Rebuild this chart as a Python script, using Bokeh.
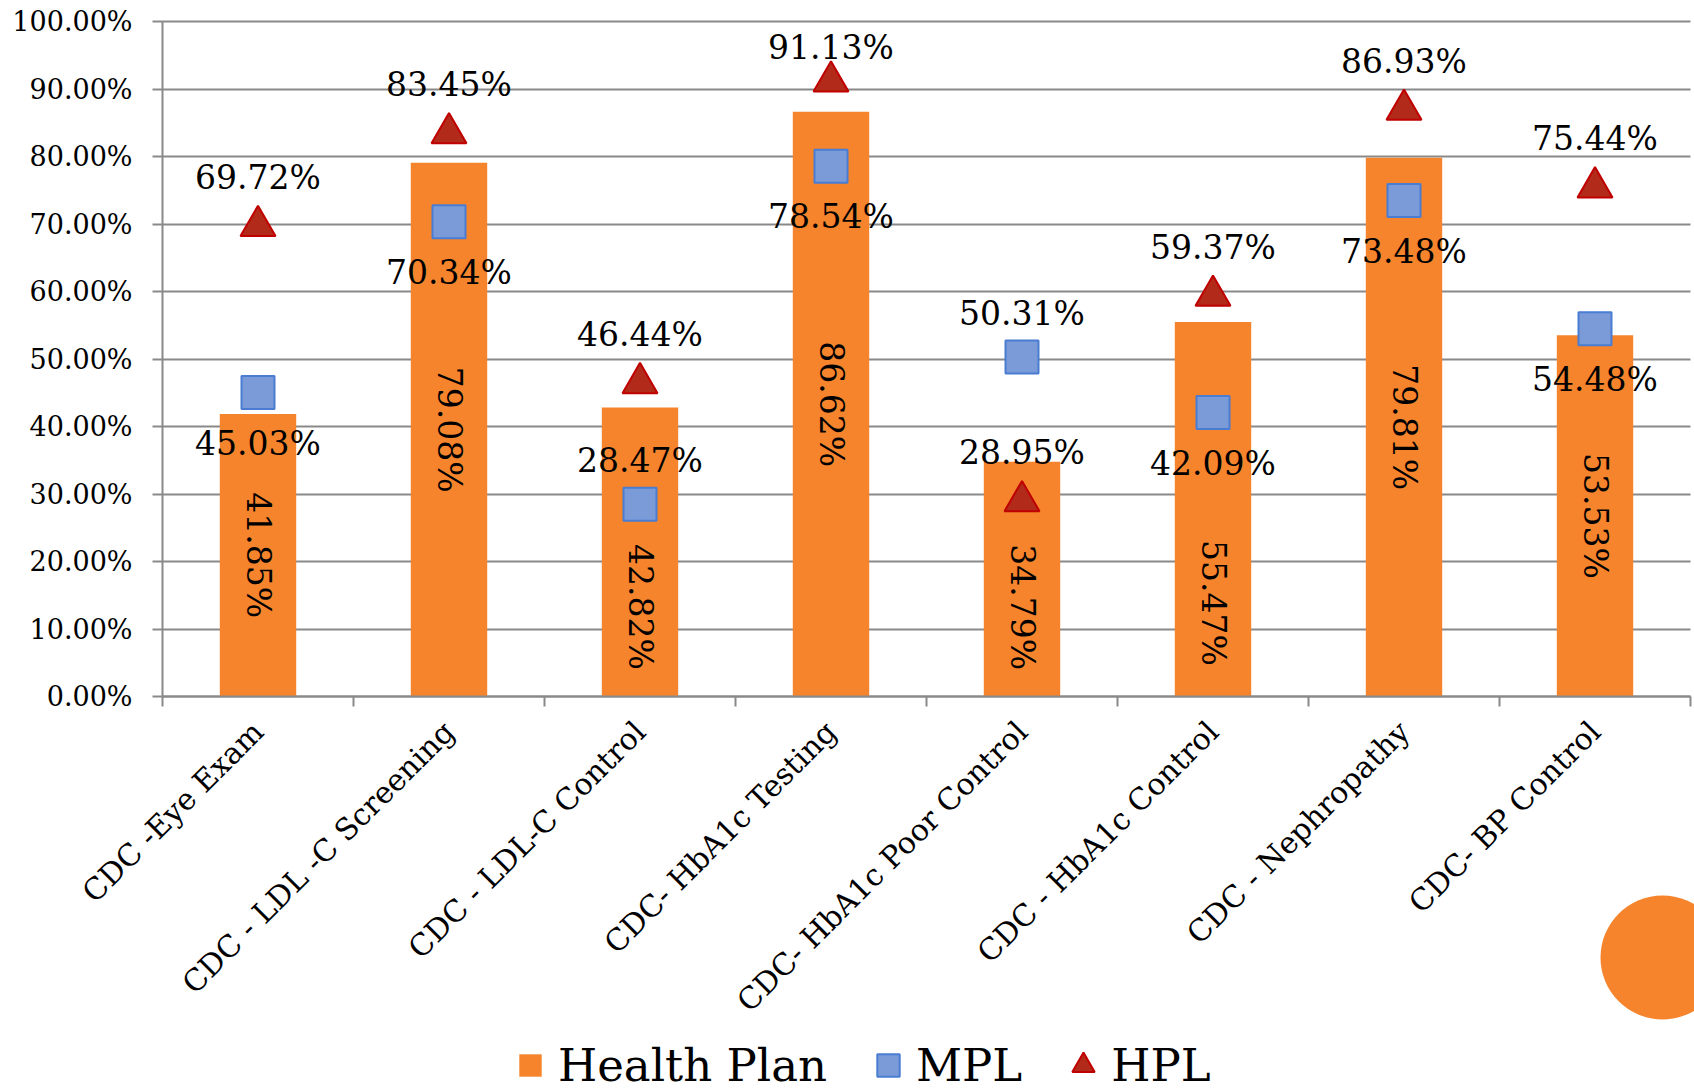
import math
from bokeh.plotting import figure
from bokeh.models import (Range1d, FixedTicker, PrintfTickFormatter, ColumnDataSource,
                          Legend, LegendItem, Grid, BoxAnnotation)
from bokeh.core.properties import value
from bokeh.embed import file_html
from bokeh.resources import INLINE

categories = ["CDC -Eye Exam", "CDC - LDL -C Screening", "CDC - LDL-C Control",
              "CDC- HbA1c Testing", "CDC- HbA1c Poor Control", "CDC - HbA1c Control",
              "CDC - Nephropathy", "CDC- BP Control"]
health_plan = [41.85, 79.08, 42.82, 86.62, 34.79, 55.47, 79.81, 53.53]
mpl = [45.03, 70.34, 28.47, 78.54, 50.31, 42.09, 73.48, 54.48]
hpl = [69.72, 83.45, 46.44, 91.13, 28.95, 59.37, 86.93, 75.44]
# where the in-bar label sits, as a fraction of the bar height (Excel nudged some down)
hp_label_frac = [0.5, 0.5, 0.31, 0.5, 0.38, 0.25, 0.5, 0.5]
mpl_label_side = ["below", "below", "above", "below", "above", "below", "below", "below"]
y_ticks = [0, 10, 20, 30, 40, 50, 60, 70, 80, 90, 100]
legend_labels = ["Health Plan", "MPL", "HPL"]

FONT = "DejaVu Serif"
ORANGE = "#F5842D"
SQ_FILL = "#7A9AD8"
SQ_LINE = "#4A7DD2"
TRI_FILL = "#B12A1A"
TRI_LINE = "#C00000"
GRID = "#898989"

W, H = 1694, 1091
AXIS_X_PX, RIGHT_PX = 162, 1690      # pixel columns of the y axis and of the last category edge
TOP_PX, ZERO_PX = 21, 696            # pixel rows of the 100% and 0% lines

n = len(categories)
xs = [i + 0.5 for i in range(n)]
PX_PER_CAT = (RIGHT_PX - AXIS_X_PX) / n
PX_PER_PCT = (ZERO_PX - TOP_PX) / 100.0
x_start = -AXIS_X_PX / PX_PER_CAT
x_end = (W - AXIS_X_PX) / PX_PER_CAT
y_top = 100 + TOP_PX / PX_PER_PCT
y_bottom = -(H - ZERO_PX) / PX_PER_PCT

# the frame fills the whole canvas, the axes are pinned at x=0 / y=0
p = figure(width=W, height=H, output_backend="svg", toolbar_location=None,
           x_range=Range1d(x_start, x_end), y_range=Range1d(y_bottom, y_top),
           min_border_left=0, min_border_right=0, min_border_top=0, min_border_bottom=0)
p.outline_line_color = None
p.background_fill_color = "white"
p.border_fill_color = "white"

# y axis
p.yaxis.fixed_location = 0
p.yaxis.bounds = (0, 100)
p.yaxis.ticker = FixedTicker(ticks=y_ticks)
p.yaxis.formatter = PrintfTickFormatter(format="%.2f%%")
p.yaxis.major_label_text_font = FONT
p.yaxis.major_label_text_font_size = "27px"
p.yaxis.major_label_text_color = "black"
p.yaxis.major_label_standoff = 20
p.yaxis.major_tick_out = 10
p.yaxis.major_tick_in = 0
p.yaxis.major_tick_line_color = GRID
p.yaxis.major_tick_line_width = 2
p.yaxis.minor_tick_line_color = None
p.yaxis.axis_line_color = GRID
p.yaxis.axis_line_width = 2

# x axis, drawn at the 0% line
p.xaxis.fixed_location = 0
p.xaxis.bounds = (0, n)
p.xaxis.ticker = FixedTicker(ticks=xs, minor_ticks=list(range(n + 1)))
p.xaxis.major_label_overrides = {x: c for x, c in zip(xs, categories)}
p.xaxis.major_label_orientation = math.pi / 4
p.xaxis.major_label_text_font = FONT
p.xaxis.major_label_text_font_size = "30px"
p.xaxis.major_label_text_color = "black"
p.xaxis.major_label_standoff = 20
p.xaxis.major_tick_line_color = None
p.xaxis.minor_tick_out = 10
p.xaxis.minor_tick_in = 0
p.xaxis.minor_tick_line_color = GRID
p.xaxis.minor_tick_line_width = 2
p.xaxis.axis_line_color = GRID
p.xaxis.axis_line_width = 2

p.xgrid.grid_line_color = None
p.ygrid.grid_line_color = GRID
p.ygrid.grid_line_width = 2
p.ygrid.bounds = (0, 100)
if "cross_bounds" in Grid.properties():
    p.ygrid.cross_bounds = (0, n)
else:
    # hide the part of the grid lines left of the axis
    p.add_layout(BoxAnnotation(right=0, fill_color="white", fill_alpha=1,
                               line_color=None, level="underlay"))

src = ColumnDataSource(dict(
    x=xs, hp=health_plan, mpl=mpl, hpl=hpl,
    hp_lab_y=[v * f for v, f in zip(health_plan, hp_label_frac)],
    hp_txt=[f"{v:.2f}%" for v in health_plan],
    mpl_y=[v - 7.5 if s == "below" else v + 6.5 for v, s in zip(mpl, mpl_label_side)],
    mpl_txt=[f"{v:.2f}%" for v in mpl],
    hpl_y=[min(v + 7.2, 96.2) for v in hpl],
    hpl_txt=[f"{v:.2f}%" for v in hpl],
))

p.vbar(x="x", top="hp", width=0.4, bottom=0, source=src, fill_color=ORANGE, line_color=None)
p.scatter(x="x", y="mpl", source=src, marker="square", size=33,
          fill_color=SQ_FILL, line_color=SQ_LINE, line_width=2)
p.scatter(x="x", y="hpl", source=src, marker="triangle", size=35,
          fill_color=TRI_FILL, line_color=TRI_LINE, line_width=2)

common = dict(text_font=value(FONT), text_font_size="33px", text_color="black",
              text_align="center", text_baseline="middle")
p.text(x="x", y="hp_lab_y", text="hp_txt", angle=-math.pi / 2, source=src, **common)
p.text(x="x", y="mpl_y", text="mpl_txt", source=src, **common)
p.text(x="x", y="hpl_y", text="hpl_txt", source=src, **common)

# legend (proxy markers so that the legend swatches have a proper size)
nan = float("nan")
lg_hp = p.scatter(x=[nan], y=[nan], marker="square", size=1, fill_color=ORANGE, line_color=None)
lg_mpl = p.scatter(x=[nan], y=[nan], marker="square", size=1,
                   fill_color=SQ_FILL, line_color=SQ_LINE, line_width=2)
lg_hpl = p.scatter(x=[nan], y=[nan], marker="triangle", size=1,
                   fill_color=TRI_FILL, line_color=TRI_LINE, line_width=2)

legend = Legend(items=[LegendItem(label=legend_labels[0], renderers=[lg_hp]),
                       LegendItem(label=legend_labels[1], renderers=[lg_mpl]),
                       LegendItem(label=legend_labels[2], renderers=[lg_hpl])],
                orientation="horizontal", location=(502, -2),
                label_text_font=FONT, label_text_font_size="45px", label_text_color="black",
                glyph_width=56, glyph_height=56, label_standoff=0, spacing=33,
                padding=0, margin=0,
                border_line_color=None, background_fill_alpha=0)
p.add_layout(legend)

# decorative slide circle at the lower right
cx = (1662 - AXIS_X_PX) / PX_PER_CAT
cy = -(957 - ZERO_PX) / PX_PER_PCT
p.scatter(x=[cx], y=[cy], marker="circle", size=124, fill_color=ORANGE, line_color=None)

open("out.html", "w").write(file_html(p, INLINE))
